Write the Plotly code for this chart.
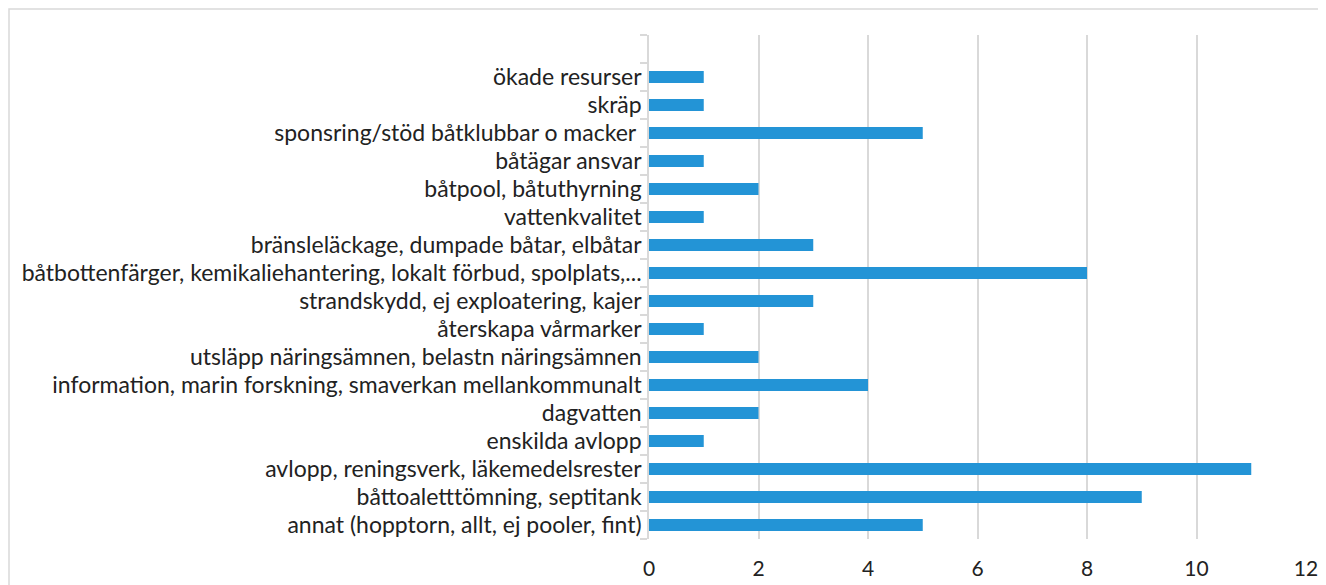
import plotly.graph_objects as go

# categories listed top to bottom, the first one is the empty band at the top
categories = [" ", "ökade resurser", "skräp", "sponsring/stöd båtklubbar o macker ",
              "båtägar ansvar", "båtpool, båtuthyrning", "vattenkvalitet",
              "bränsleläckage, dumpade båtar, elbåtar",
              "båtbottenfärger, kemikaliehantering, lokalt förbud, spolplats,...",
              "strandskydd, ej exploatering, kajer", "återskapa vårmarker",
              "utsläpp näringsämnen, belastn näringsämnen",
              "information, marin forskning, smaverkan mellankommunalt",
              "dagvatten", "enskilda avlopp", "avlopp, reningsverk, läkemedelsrester",
              "båttoaletttömning, septitank", "annat (hopptorn, allt, ej pooler, fint)"]
values = [None, 1, 1, 5, 1, 2, 1, 3, 8, 3, 1, 2, 4, 2, 1, 11, 9, 5]
x_ticks = [0, 2, 4, 6, 8, 10, 12]

# the page body adds an 8px offset, so the figure is 8px smaller than the window
W, H = 1318, 577
L, R, T, B = 641, 20, 27, 46
pw, ph = W - L - R, H - T - B

fig = go.Figure(go.Bar(
    y=categories, x=values, orientation="h",
    marker=dict(color="#2394d6", line=dict(width=0)),
))

fig.update_layout(
    width=W, height=H,
    margin=dict(l=L, r=R, t=T, b=B, pad=0, autoexpand=False),
    paper_bgcolor="white", plot_bgcolor="white",
    font=dict(family="Lato, Open Sans, sans-serif", size=22, color="#222222"),
    bargap=0.57,
    showlegend=False,
)
fig.update_xaxes(
    range=[0, 12], tickvals=x_ticks, showgrid=True, gridcolor="#d9d9d9",
    gridwidth=1.5, zeroline=False, showline=False, ticks="", automargin=False,
    ticklabelstandoff=15, tickfont=dict(size=21, color="#222222"),
)
fig.update_yaxes(
    categoryorder="array", categoryarray=categories[::-1], automargin=False,
    showline=True, linecolor="#d9d9d9", linewidth=1.5,
    ticks="outside", tickson="boundaries", ticklen=7, tickcolor="#d9d9d9",
    tickwidth=1.5, ticklabelstandoff=1, showgrid=False,
    tickfont=dict(size=23, color="#222222"),
)

# outer chart frame
fig.add_shape(
    type="rect", xref="paper", yref="paper",
    x0=(1 - L) / pw, x1=(W + 10 - L) / pw,
    y0=-(H + 10 - (T + ph)) / ph, y1=(T + ph - 1) / ph,
    line=dict(color="#d9d9d9", width=1.5), fillcolor="rgba(0,0,0,0)", layer="below",
)

fig.write_html("out.html")
